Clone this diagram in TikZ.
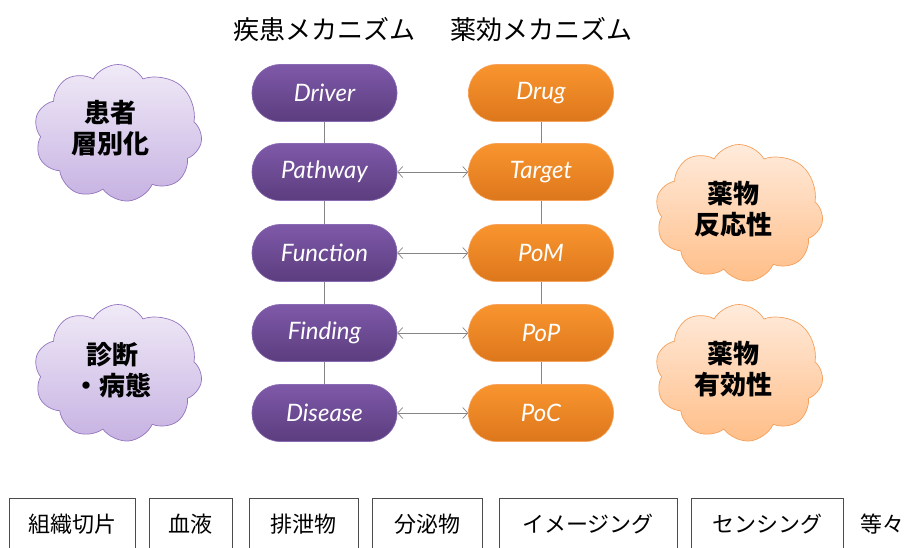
\documentclass[tikz,border=0pt]{standalone}
\usepackage{fontspec}
\setmainfont{Lato}
\newfontfamily\jp{Noto Sans CJK JP}
\usetikzlibrary{shapes.symbols,arrows.meta}
\definecolor{purpT}{HTML}{7E59A9}
\definecolor{purpB}{HTML}{5C3D7E}
\definecolor{purpD}{HTML}{8A6AB4}
\definecolor{orT}{HTML}{F9952F}
\definecolor{orB}{HTML}{DD771C}
\definecolor{orD}{HTML}{F7A25A}
\definecolor{cpT}{HTML}{F0EAF7}
\definecolor{cpB}{HTML}{C6B2E2}
\definecolor{cpD}{HTML}{9575BF}
\definecolor{coT}{HTML}{FFEBDC}
\definecolor{coB}{HTML}{FFBE88}
\definecolor{coD}{HTML}{F5A05C}
\definecolor{conn}{HTML}{858585}
\begin{document}
\begin{tikzpicture}[x=1pt,y=-1pt,
  pill/.style={rectangle, rounded corners=28pt, minimum width=145pt, minimum height=57pt,
    inner sep=0pt, text=white, font=\itshape\fontsize{24}{28}\selectfont, line width=0.6pt},
  ppill/.style={pill, draw=purpD, top color=purpT, bottom color=purpB},
  opill/.style={pill, draw=orD, top color=orT, bottom color=orB},
  cloudbox/.style={cloud, cloud puffs=9.6, cloud puff arc=120, aspect=1.25,
    minimum width=168pt, minimum height=137pt, inner sep=0pt, line width=0.7pt},
  pcloud/.style={cloudbox, draw=cpD, top color=cpT, bottom color=cpB},
  ocloud/.style={cloudbox, draw=coD, top color=coT, bottom color=coB},
  cloudtext/.style={align=center, inner sep=0pt, font=\jp\bfseries\fontsize{26}{31}\selectfont},
  vline/.style={draw=conn, line width=0.8pt},
  harrow/.style={draw=conn, line width=0.7pt,
    {Straight Barb[length=5pt,width=11pt]}-{Straight Barb[length=5pt,width=11pt]}},
  sample/.style={draw=black!70, line width=0.6pt, minimum height=52pt, inner sep=0pt,
    font=\jp\fontsize{22}{26}\selectfont, anchor=center},
  title/.style={font=\jp\fontsize{26}{30}\selectfont}
]
\useasboundingbox (0,0) rectangle (908,548);
\clip (0,0) rectangle (908,548);

% titles
\node[title] (t1) at (324,30) {疾患メカニズム};
\node[title] (t2) at (541,30) {薬効メカニズム};

% purple column
\node[ppill] (driver) at (324.5,93) {Driver};
\node[ppill] (pathway) at (324.5,172) {Pathway};
\node[ppill] (function) at (324.5,253) {Function};
\node[ppill] (finding) at (324.5,333) {Finding};
\node[ppill] (disease) at (324.5,413) {Disease};

% orange column
\node[opill] (drug) at (541,93) {Drug};
\node[opill] (target) at (541,172) {Target};
\node[opill] (pom) at (541,253) {PoM};
\node[opill] (pop) at (541,333) {PoP};
\node[opill] (poc) at (541,413) {PoC};

% vertical links
\draw[vline] (driver) -- (pathway);
\draw[vline] (pathway) -- (function);
\draw[vline] (function) -- (finding);
\draw[vline] (finding) -- (disease);
\draw[vline] (drug) -- (target);
\draw[vline] (target) -- (pom);
\draw[vline] (pom) -- (pop);
\draw[vline] (pop) -- (poc);

% horizontal arrows
\draw[harrow] (pathway.east) -- (target.west);
\draw[harrow] (function.east) -- (pom.west);
\draw[harrow] (finding.east) -- (pop.west);
\draw[harrow] (disease.east) -- (poc.west);

% clouds
\node[pcloud] (c1) at (118,133) {};
\node[cloudtext] (c1t) at (110,128) {患者\\層別化};
\node[pcloud] (c2) at (118,373) {};
\node[cloudtext] (c2t) at (112,370) {診断\\・病態};
\node[ocloud] (c3) at (739,213) {};
\node[cloudtext] (c3t) at (733,209) {薬物\\反応性};
\node[ocloud] (c4) at (739,373) {};
\node[cloudtext] (c4t) at (733,369) {薬物\\有効性};

% bottom sample boxes
\node[sample, minimum width=126pt] (s1) at (72,524) {組織切片};
\node[sample, minimum width=83pt] (s2) at (190.5,524) {血液};
\node[sample, minimum width=109pt] (s3) at (303.5,524) {排泄物};
\node[sample, minimum width=110pt] (s4) at (427,524) {分泌物};
\node[sample, minimum width=178pt] (s5) at (588,524) {イメージング};
\node[sample, minimum width=152pt] (s6) at (767,524) {センシング};
\node[font=\jp\fontsize{22}{26}\selectfont] (s7) at (882,524) {等々};
\end{tikzpicture}
\end{document}
